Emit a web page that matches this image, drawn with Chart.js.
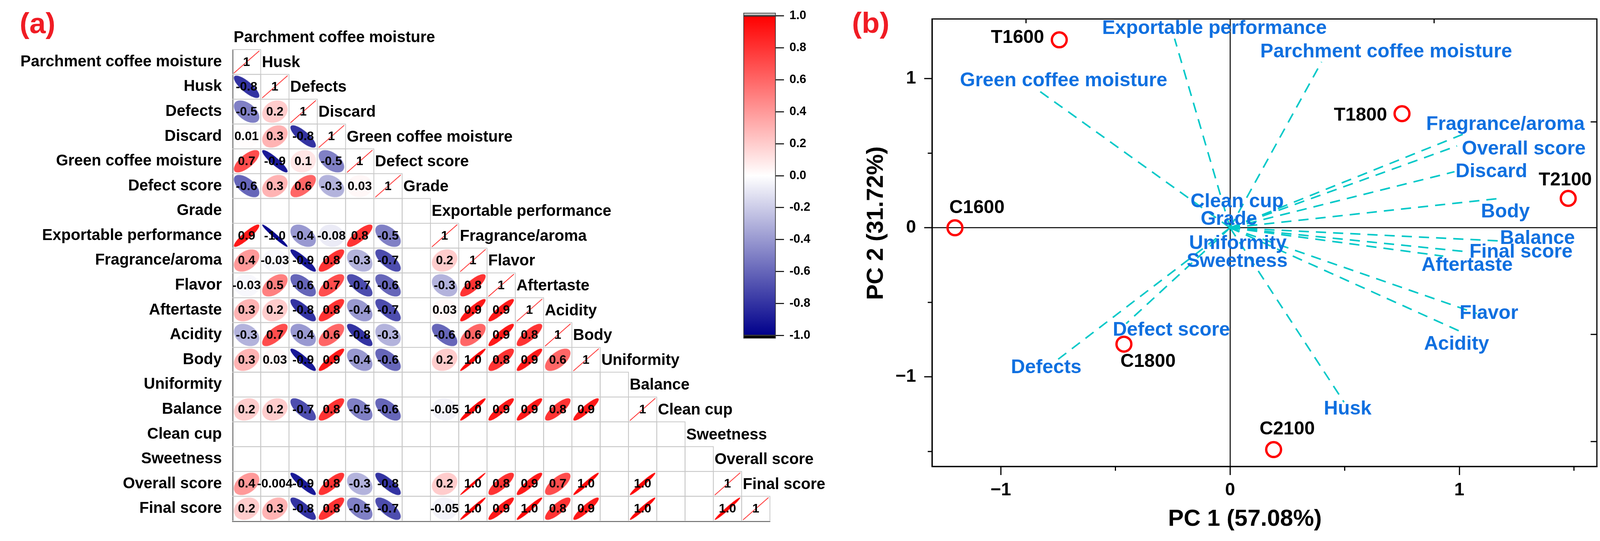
<!DOCTYPE html>
<html>
<head>
<meta charset="utf-8">
<title>Correlation matrix and PCA biplot</title>
<script src="https://cdn.jsdelivr.net/npm/chart.js@4.4.1/dist/chart.umd.min.js"></script>
<style>
  html, body { margin: 0; padding: 0; background: #fff; }
  #wrap { position: relative; width: 4113px; height: 1386px; overflow: hidden; background: #fff; }
  canvas { position: absolute; top: 0; }
  #corr { left: 0; }
  #pca { left: 2100px; }
  #bar { left: 1890px; }
</style>
</head>
<body>
<div id="wrap">
  <canvas id="corr" width="2200" height="1386"></canvas>
  <canvas id="pca" width="2013" height="1386"></canvas>
  <canvas id="bar" width="230" height="900"></canvas>
</div>
<script>
const variables = [
  "Parchment coffee moisture", "Husk", "Defects", "Discard", "Green coffee moisture",
  "Defect score", "Grade", "Exportable performance", "Fragrance/aroma", "Flavor",
  "Aftertaste", "Acidity", "Body", "Uniformity", "Balance", "Clean cup", "Sweetness",
  "Overall score", "Final score"
];

// lower triangle of the correlation matrix, row i holds columns 0..i
const _ = null;
const corrRows = [
  [1],
  [-0.8, 1],
  [-0.5, 0.2, 1],
  [0.01, 0.3, -0.8, 1],
  [0.7, -0.9, 0.1, -0.5, 1],
  [-0.6, 0.3, 0.6, -0.3, 0.03, 1],
  [_, _, _, _, _, _, _],
  [0.9, -0.97, -0.4, -0.08, 0.8, -0.5, _, 1],
  [0.4, -0.03, -0.9, 0.8, -0.3, -0.7, _, 0.2, 1],
  [-0.03, 0.5, -0.6, 0.7, -0.7, -0.6, _, -0.3, 0.8, 1],
  [0.3, 0.2, -0.8, 0.8, -0.4, -0.7, _, 0.03, 0.9, 0.9, 1],
  [-0.3, 0.7, -0.4, 0.6, -0.8, -0.3, _, -0.6, 0.6, 0.9, 0.8, 1],
  [0.3, 0.03, -0.9, 0.9, -0.4, -0.6, _, 0.2, 0.97, 0.8, 0.9, 0.6, 1],
  [_, _, _, _, _, _, _, _, _, _, _, _, _, _],
  [0.2, 0.2, -0.7, 0.8, -0.5, -0.6, _, -0.05, 0.96, 0.9, 0.9, 0.8, 0.9, _, 1],
  [_, _, _, _, _, _, _, _, _, _, _, _, _, _, _, _],
  [_, _, _, _, _, _, _, _, _, _, _, _, _, _, _, _, _],
  [0.4, -0.004, -0.9, 0.8, -0.3, -0.8, _, 0.2, 0.99, 0.8, 0.9, 0.7, 0.97, _, 0.97, _, _, 1],
  [0.2, 0.3, -0.8, 0.8, -0.5, -0.7, _, -0.05, 0.98, 0.9, 0.96, 0.8, 0.9, _, 0.97, _, _, 0.98, 1]
];

// PCA scores of the samples
const sampleNames = ["T1600", "C1600", "T1800", "T2100", "C1800", "C2100"];
const scorePC1 = [-0.745, -1.2, 0.75, 1.475, -0.463, 0.19];
const scorePC2 = [1.26, 0.0, 0.765, 0.197, -0.78, -1.487];
const sampleLabelPC1 = [-0.927, -1.104, 0.569, 1.462, -0.358, 0.249];
const sampleLabelPC2 = [1.273, 0.134, 0.753, 0.318, -0.897, -1.351];

// loadings (same order as variables) and where their names sit
const loadPC1 = [0.399, 0.497, -0.77, 0.979, -0.842, -0.453, 0, -0.242, 1.019, 1.077, 0.93, 1.007, 1.169, 0, 1.175, 0, 0, 0.99, 1.03];
const loadPC2 = [1.112, -1.169, -0.905, 0.376, 0.928, -0.642, 0, 1.268, 0.629, -0.575, -0.19, -0.697, 0.196, 0, -0.088, 0, 0, 0.549, -0.16];
const loadLabelPC1 = [0.681, 0.513, -0.802, 1.14, -0.726, -0.256, -0.005, -0.068, 1.201, 1.129, 1.034, 0.988, 1.201, 0.034, 1.341, 0.031, 0.031, 1.281, 1.269];
const loadLabelPC2 = [1.178, -1.216, -0.938, 0.376, 0.985, -0.686, 0.057, 1.335, 0.692, -0.576, -0.253, -0.781, 0.106, -0.106, -0.072, 0.173, -0.227, 0.526, -0.165];

// axis ticks
const pcaXTicks = [-1, -0.5, 0, 0.5, 1, 1.5];
const pcaYTicks = [-1.5, -1, -0.5, 0, 0.5, 1];
const topTicks = [-0.89, 0.89];
const rightTicks = [0.71, -0.715, -1.433];

const FONT = '"Liberation Sans", Arial, sans-serif';
Chart.defaults.font.family = FONT;
Chart.defaults.color = "#000";

const cellPoints = [];
corrRows.forEach((row, i) => row.forEach((v, j) => {
  if (v !== null) cellPoints.push({ x: j, y: i, r: v });
}));

function fmtCorr(v) {
  if (v === 1) return "1";
  if (Math.abs(v) >= 0.95) return v < 0 ? "-1.0" : "1.0";
  return String(Number(v.toPrecision(1)));
}

function corrColor(r) {
  const t = Math.min(1, Math.abs(r));
  const k = Math.round(255 * (1 - t));
  if (r >= 0) return `rgb(255,${k},${k})`;
  return `rgb(${k},${k},${Math.round(255 - (255 - 139) * t)})`;
}

const ellipseCache = {};
function ellipseImage(r, w, h) {
  const key = r + "_" + w.toFixed(1) + "_" + h.toFixed(1);
  if (ellipseCache[key]) return ellipseCache[key];
  const cv = document.createElement("canvas");
  cv.width = Math.round(w);
  cv.height = Math.round(h);
  const c = cv.getContext("2d");
  const cx = cv.width / 2, cy = cv.height / 2;
  const a = w * 0.45, b = h * 0.45;
  const d = Math.acos(Math.max(-1, Math.min(1, r)));
  c.beginPath();
  for (let k = 0; k <= 144; k++) {
    const t = k / 144 * Math.PI * 2;
    const px = cx + a * Math.cos(t + d / 2);
    const py = cy - b * Math.cos(t - d / 2);
    if (k === 0) c.moveTo(px, py); else c.lineTo(px, py);
  }
  c.closePath();
  if (r >= 1) {
    c.strokeStyle = "#ff0000";
    c.lineWidth = 1.6;
    c.stroke();
  } else {
    c.fillStyle = corrColor(r);
    c.fill();
  }
  ellipseCache[key] = cv;
  return cv;
}

const corrPlugin = {
  id: "corrPlugin",
  beforeDatasetsDraw(chart) {
    const { ctx } = chart;
    const xs = chart.scales.x, ys = chart.scales.y;
    ctx.save();
    ctx.strokeStyle = "#c8c8c8";
    ctx.lineWidth = 2;
    corrRows.forEach((row, i) => row.forEach((v, j) => {
      const x0 = xs.getPixelForValue(j - 0.5), x1 = xs.getPixelForValue(j + 0.5);
      const y0 = ys.getPixelForValue(i - 0.5), y1 = ys.getPixelForValue(i + 0.5);
      ctx.strokeRect(x0, y0, x1 - x0, y1 - y0);
    }));
    ctx.restore();
  },
  afterDatasetsDraw(chart) {
    const { ctx } = chart;
    const meta = chart.getDatasetMeta(0);
    ctx.save();
    ctx.font = "bold 32px " + FONT;
    ctx.fillStyle = "#000";
    ctx.textAlign = "center";
    ctx.textBaseline = "middle";
    meta.data.forEach((el, k) => ctx.fillText(fmtCorr(cellPoints[k].r), el.x, el.y + 1));
    ctx.restore();
  },
  afterDraw(chart) {
    const { ctx } = chart;
    const xs = chart.scales.x, ys = chart.scales.y;
    ctx.save();
    ctx.font = "bold 40px " + FONT;
    ctx.fillStyle = "#000";
    ctx.textAlign = "left";
    ctx.textBaseline = "middle";
    variables.forEach((name, j) => {
      ctx.fillText(name, xs.getPixelForValue(j - 0.5) + 3, ys.getPixelForValue(j - 1) + 2);
    });
    ctx.font = "bold 75px " + FONT;
    ctx.fillStyle = "#f01c24";
    ctx.textAlign = "center";
    ctx.fillText("(a)", 96, 64);
    ctx.restore();
  }
};

new Chart(document.getElementById("corr"), {
  type: "scatter",
  data: {
    datasets: [{
      data: cellPoints,
      pointStyle: (ctx) => {
        const p = ctx.raw;
        if (!p) return "circle";
        const xs = ctx.chart.scales.x, ys = ctx.chart.scales.y;
        const w = Math.abs(xs.getPixelForValue(1) - xs.getPixelForValue(0));
        const h = Math.abs(ys.getPixelForValue(1) - ys.getPixelForValue(0));
        return ellipseImage(p.r, w, h);
      },
      radius: 3
    }]
  },
  options: {
    responsive: false,
    animation: false,
    devicePixelRatio: 1,
    events: [],
    layout: { padding: { left: 0, top: 127, right: 229, bottom: 43 } },
    plugins: { legend: { display: false }, tooltip: { enabled: false } },
    scales: {
      x: {
        type: "linear", min: -0.5, max: 18.5, z: 1,
        ticks: { display: false },
        grid: { display: false, drawTicks: false },
        border: { display: true, color: "#000", width: 3 },
        afterFit: (s) => { s.height = 0; }
      },
      y: {
        type: "linear", min: -0.5, max: 18.5, reverse: true, z: 1,
        afterBuildTicks: (s) => { s.ticks = variables.map((_, i) => ({ value: i })); },
        ticks: {
          autoSkip: false, padding: 27,
          font: { size: 40, weight: "bold" },
          callback: (v) => variables[v]
        },
        grid: { display: false, drawTicks: false },
        border: { display: true, color: "#000", width: 3 },
        afterFit: (s) => { s.width = 595; }
      }
    }
  },
  plugins: [corrPlugin]
});

// colour bar
new Chart(document.getElementById("bar"), {
  type: "bar",
  data: {
    labels: [""],
    datasets: [
      {
        data: [[-1, 1]],
        backgroundColor: (ctx) => {
          const chart = ctx.chart;
          if (!chart.chartArea) return "#fff";
          const y = chart.scales.y;
          const g = chart.ctx.createLinearGradient(0, y.getPixelForValue(1), 0, y.getPixelForValue(-1));
          g.addColorStop(0, "#ff0000");
          g.addColorStop(0.5, "#ffffff");
          g.addColorStop(1, "#00008b");
          return g;
        }
      },
      { data: [[1, 1.02]], backgroundColor: "#bebebe" },
      { data: [[-1.02, -1]], backgroundColor: "#000000" }
    ]
  },
  options: {
    responsive: false,
    animation: false,
    devicePixelRatio: 1,
    events: [],
    grouped: false,
    barPercentage: 1,
    categoryPercentage: 1,
    borderColor: "#333",
    borderWidth: 2,
    borderSkipped: false,
    layout: { padding: { left: 13, top: 29, right: 0, bottom: 28 } },
    plugins: { legend: { display: false }, tooltip: { enabled: false } },
    scales: {
      x: { display: false },
      y: {
        position: "right", min: -1.02, max: 1.02,
        ticks: {
          stepSize: 0.2, includeBounds: false, padding: 14,
          font: { size: 31, weight: "bold" },
          callback: (v) => v.toFixed(1)
        },
        grid: { drawOnChartArea: false, tickLength: 21, tickColor: "#000", tickWidth: 2.5 },
        border: { display: false },
        afterFit: (s) => { s.width = 134; }
      }
    }
  }
});

// PCA biplot
const pcaPlugin = {
  id: "pcaPlugin",
  afterDatasetsDraw(chart) {
    const { ctx } = chart;
    const xs = chart.scales.x, ys = chart.scales.y;
    ctx.save();
    ctx.textAlign = "center";
    ctx.textBaseline = "middle";
    ctx.font = "bold 50px " + FONT;
    ctx.fillStyle = "#1070e0";
    variables.forEach((name, i) => {
      ctx.fillText(name, xs.getPixelForValue(loadLabelPC1[i]), ys.getPixelForValue(loadLabelPC2[i]));
    });
    ctx.font = "bold 48px " + FONT;
    ctx.fillStyle = "#000";
    sampleNames.forEach((name, i) => {
      ctx.fillText(name, xs.getPixelForValue(sampleLabelPC1[i]), ys.getPixelForValue(sampleLabelPC2[i]));
    });
    ctx.restore();
  },
  afterDraw(chart) {
    const { ctx, chartArea: a } = chart;
    const xs = chart.scales.x, ys = chart.scales.y;
    ctx.save();
    ctx.strokeStyle = "#000";
    ctx.lineWidth = 3;
    ctx.strokeRect(a.left, a.top, a.right - a.left, a.bottom - a.top);
    ctx.lineWidth = 3;
    ctx.beginPath();
    pcaXTicks.filter((v) => !Number.isInteger(v)).forEach((v) => {
      const x = xs.getPixelForValue(v);
      ctx.moveTo(x, a.bottom); ctx.lineTo(x, a.bottom + 11);
    });
    pcaYTicks.filter((v) => !Number.isInteger(v)).forEach((v) => {
      const y = ys.getPixelForValue(v);
      ctx.moveTo(a.left, y); ctx.lineTo(a.left - 11, y);
    });
    topTicks.forEach((v) => {
      const x = xs.getPixelForValue(v);
      ctx.moveTo(x, a.top); ctx.lineTo(x, a.top + 11);
    });
    rightTicks.forEach((v) => {
      const y = ys.getPixelForValue(v);
      ctx.moveTo(a.right, y); ctx.lineTo(a.right - 16, y);
    });
    ctx.stroke();
    ctx.font = "bold 75px " + FONT;
    ctx.fillStyle = "#f01c24";
    ctx.textAlign = "center";
    ctx.textBaseline = "middle";
    ctx.fillText("(b)", 129, 63);
    ctx.restore();
  }
};

const loadingSets = variables.map((name, i) => ({
  label: name,
  data: [{ x: 0, y: 0 }, { x: loadPC1[i], y: loadPC2[i] }],
  showLine: true,
  borderColor: "#00c8c8",
  borderWidth: 4,
  borderDash: [26, 18],
  pointRadius: 0,
  order: 2
}));

const majorTick = (v) => Number.isInteger(v);
const minusLabel = (v) => (majorTick(v) ? (v < 0 ? "\u2212" + Math.abs(v) : String(v)) : "");

new Chart(document.getElementById("pca"), {
  type: "scatter",
  data: {
    datasets: [
      ...loadingSets,
      {
        label: "samples",
        data: sampleNames.map((n, i) => ({ x: scorePC1[i], y: scorePC2[i] })),
        pointStyle: "circle",
        radius: 19,
        borderWidth: 6,
        borderColor: "#ff0000",
        backgroundColor: "rgba(0,0,0,0)",
        order: 1
      }
    ]
  },
  options: {
    responsive: false,
    animation: false,
    devicePixelRatio: 1,
    events: [],
    layout: { padding: { left: 0, top: 30, right: 24, bottom: 0 } },
    plugins: { legend: { display: false }, tooltip: { enabled: false } },
    scales: {
      x: {
        type: "linear", min: -1.3, max: 1.6,
        afterBuildTicks: (s) => { s.ticks = pcaXTicks.map((v) => ({ value: v })); },
        ticks: { padding: 12, font: { size: 46, weight: "bold" }, callback: minusLabel },
        grid: {
          color: (c) => (c.tick && c.tick.value === 0 ? "#000" : "rgba(0,0,0,0)"),
          lineWidth: 2.5,
          tickLength: 22,
          tickWidth: 3,
          tickColor: (c) => (c.tick && majorTick(c.tick.value) ? "#000" : "rgba(0,0,0,0)")
        },
        border: { display: true, color: "#000", width: 3 },
        title: {
          display: true, text: "PC 1 (57.08%)      ",
          font: { size: 60, weight: "bold" }, padding: { top: 0, bottom: 20 }
        },
        afterFit: (s) => { s.height = 191; }
      },
      y: {
        type: "linear", min: -1.6, max: 1.4,
        afterBuildTicks: (s) => { s.ticks = pcaYTicks.map((v) => ({ value: v })); },
        ticks: { padding: 21, font: { size: 46, weight: "bold" }, callback: minusLabel },
        grid: {
          color: (c) => (c.tick && c.tick.value === 0 ? "#000" : "rgba(0,0,0,0)"),
          lineWidth: 2.5,
          tickLength: 20,
          tickWidth: 3,
          tickColor: (c) => (c.tick && majorTick(c.tick.value) ? "#000" : "rgba(0,0,0,0)")
        },
        border: { display: true, color: "#000", width: 3 },
        title: {
          display: true, text: "      PC 2 (31.72%)",
          font: { size: 60, weight: "bold" }, padding: { top: 107, bottom: 0 }
        },
        afterFit: (s) => { s.width = 286; }
      }
    }
  },
  plugins: [pcaPlugin]
});
</script>
</body>
</html>
